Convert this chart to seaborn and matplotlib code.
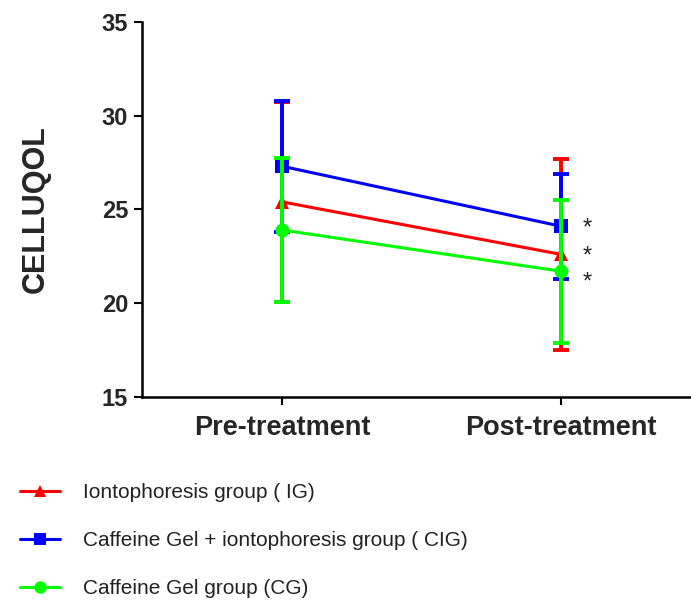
import numpy as np
import pandas as pd
import matplotlib
matplotlib.use("Agg")
import matplotlib.pyplot as plt
from matplotlib.lines import Line2D
import seaborn as sns

# ---------------------------------------------------------------
# Données (moyennes +/- écart-type)
# ---------------------------------------------------------------
phases = ["Pre-treatment", "Post-treatment"]
groups = ["Iontophoresis group ( IG)",
          "Caffeine Gel + iontophoresis group ( CIG)",
          "Caffeine Gel group (CG)"]
ig_mean = [25.4, 22.6]
ig_sd = [5.35, 5.1]
cig_mean = [27.3, 24.1]
cig_sd = [3.5, 2.8]
cg_mean = [23.9, 21.7]
cg_sd = [3.85, 3.8]
star_y = [24.0, 22.5, 21.1]

colors = ["#FF0000", "#0000FF", "#00FF00"]
markers = ["^", "s", "o"]

rows = []
for g, m, s in zip(groups, [ig_mean, cig_mean, cg_mean], [ig_sd, cig_sd, cg_sd]):
    for i, p in enumerate(phases):
        rows.append({"group": g, "phase": p, "pos": i, "mean": m[i], "sd": s[i]})
df = pd.DataFrame(rows)

# ---------------------------------------------------------------
# Figure
# ---------------------------------------------------------------
sns.set_style("ticks")
plt.rcParams["font.family"] = ["Liberation Sans", "DejaVu Sans"]

fig = plt.figure(figsize=(6.91, 6.06), dpi=100)
ax = fig.add_axes([0.2055, 0.345, 0.7945, 0.619])

for k, g in enumerate(groups):
    d = df[df["group"] == g]
    ax.errorbar(d["pos"], d["mean"], yerr=d["sd"], fmt="none",
                ecolor=colors[k], elinewidth=2.8, capsize=6, capthick=2.8,
                zorder=2 + k)
    sns.lineplot(data=d, x="pos", y="mean", color=colors[k], marker=markers[k],
                 markersize=10, markeredgewidth=0, linewidth=2.2, ax=ax,
                 zorder=2 + k, legend=False)

for y in star_y:
    ax.text(1.093, y, "*", ha="center", va="center", fontsize=17, color="#222222")

ax.set_xlim(-0.502, 1.466)
ax.set_ylim(15, 35)
ax.set_yticks([15, 20, 25, 30, 35])
ax.set_xticks([0, 1])
ax.set_xticklabels(phases, fontsize=19.5, fontweight="bold")
for t in ax.get_yticklabels():
    t.set_fontsize(17)
    t.set_fontweight("bold")
ax.set_xlabel("")
ax.set_ylabel("CELLUQOL", fontsize=22, fontweight="bold")
ax.yaxis.set_label_coords(-0.166, 0.5)
ax.tick_params(axis="both", width=1.5, length=6, color="black")
ax.tick_params(axis="x", pad=7)
ax.tick_params(axis="y", pad=4)
for sp in ["left", "bottom"]:
    ax.spines[sp].set_linewidth(1.8)
    ax.spines[sp].set_color("black")
sns.despine(ax=ax)

handles = [Line2D([0], [0], color=c, marker=mk, markersize=9, linewidth=2.2,
                  markeredgewidth=0) for c, mk in zip(colors, markers)]
leg = fig.legend(handles, groups, loc="center left", bbox_to_anchor=(0.029, 0.108),
                 frameon=False, fontsize=15, handlelength=1.92, handletextpad=1.1,
                 labelspacing=1.38, borderpad=0, borderaxespad=0)
for t in leg.get_texts():
    t.set_color("#222222")

fig.savefig("out.png", dpi=100)
